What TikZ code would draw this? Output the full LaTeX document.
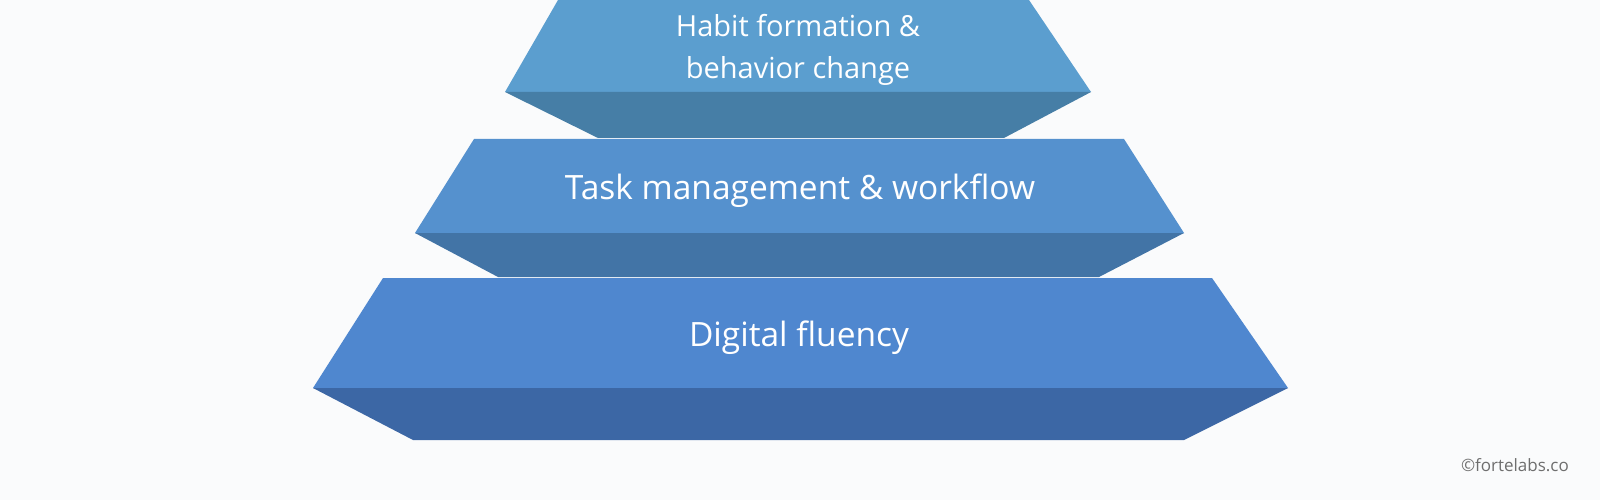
\documentclass[tikz,border=0pt]{standalone}
\usepackage{fontspec}
\setmainfont{Open Sans}
\definecolor{bgc}{RGB}{250,251,252}
\definecolor{topfront}{RGB}{91,158,207}
\definecolor{topbottom}{RGB}{70,126,166}
\definecolor{midfront}{RGB}{85,145,206}
\definecolor{midbottom}{RGB}{66,116,166}
\definecolor{lowfront}{RGB}{79,135,207}
\definecolor{lowbottom}{RGB}{60,103,165}
\definecolor{copyc}{RGB}{110,110,110}
\tikzset{
  tiertext/.style={text=white, font=\fontsize{33.5}{42}\selectfont, align=center, inner sep=0pt},
  smalltiertext/.style={tiertext, font=\fontsize{29}{42}\selectfont},
  copytext/.style={text=copyc, font=\fontsize{17}{20}\selectfont, inner sep=0pt, anchor=east}
}
\begin{document}
\begin{tikzpicture}[x=1pt,y=-1pt]
\fill[bgc] (0,0) rectangle (1600,500);
\useasboundingbox (0,0) rectangle (1600,500);
% top tier
\fill[topfront] (558,0) -- (1029,0) -- (1091,92) -- (505,92) -- cycle;
\fill[topbottom] (505,92) -- (1091,92) -- (1004,138) -- (598,138) -- cycle;
% middle tier
\fill[midfront] (474,139) -- (1124,139) -- (1184,233) -- (415,233) -- cycle;
\fill[midbottom] (415,233) -- (1184,233) -- (1099,277) -- (498,277) -- cycle;
% bottom tier
\fill[lowfront] (383,278) -- (1212,278) -- (1288,388) -- (313,388) -- cycle;
\fill[lowbottom] (313,388) -- (1288,388) -- (1184,440) -- (413,440) -- cycle;
% texts
\node[smalltiertext] (habit) at (798,50) {Habit formation \&\\behavior change};
\node[tiertext] (task) at (800,191) {Task management \& workflow};
\node[tiertext] (digital) at (799,338) {Digital fluency};
\node[copytext] (copy) at (1569,465) {©fortelabs.co};
\end{tikzpicture}
\end{document}
